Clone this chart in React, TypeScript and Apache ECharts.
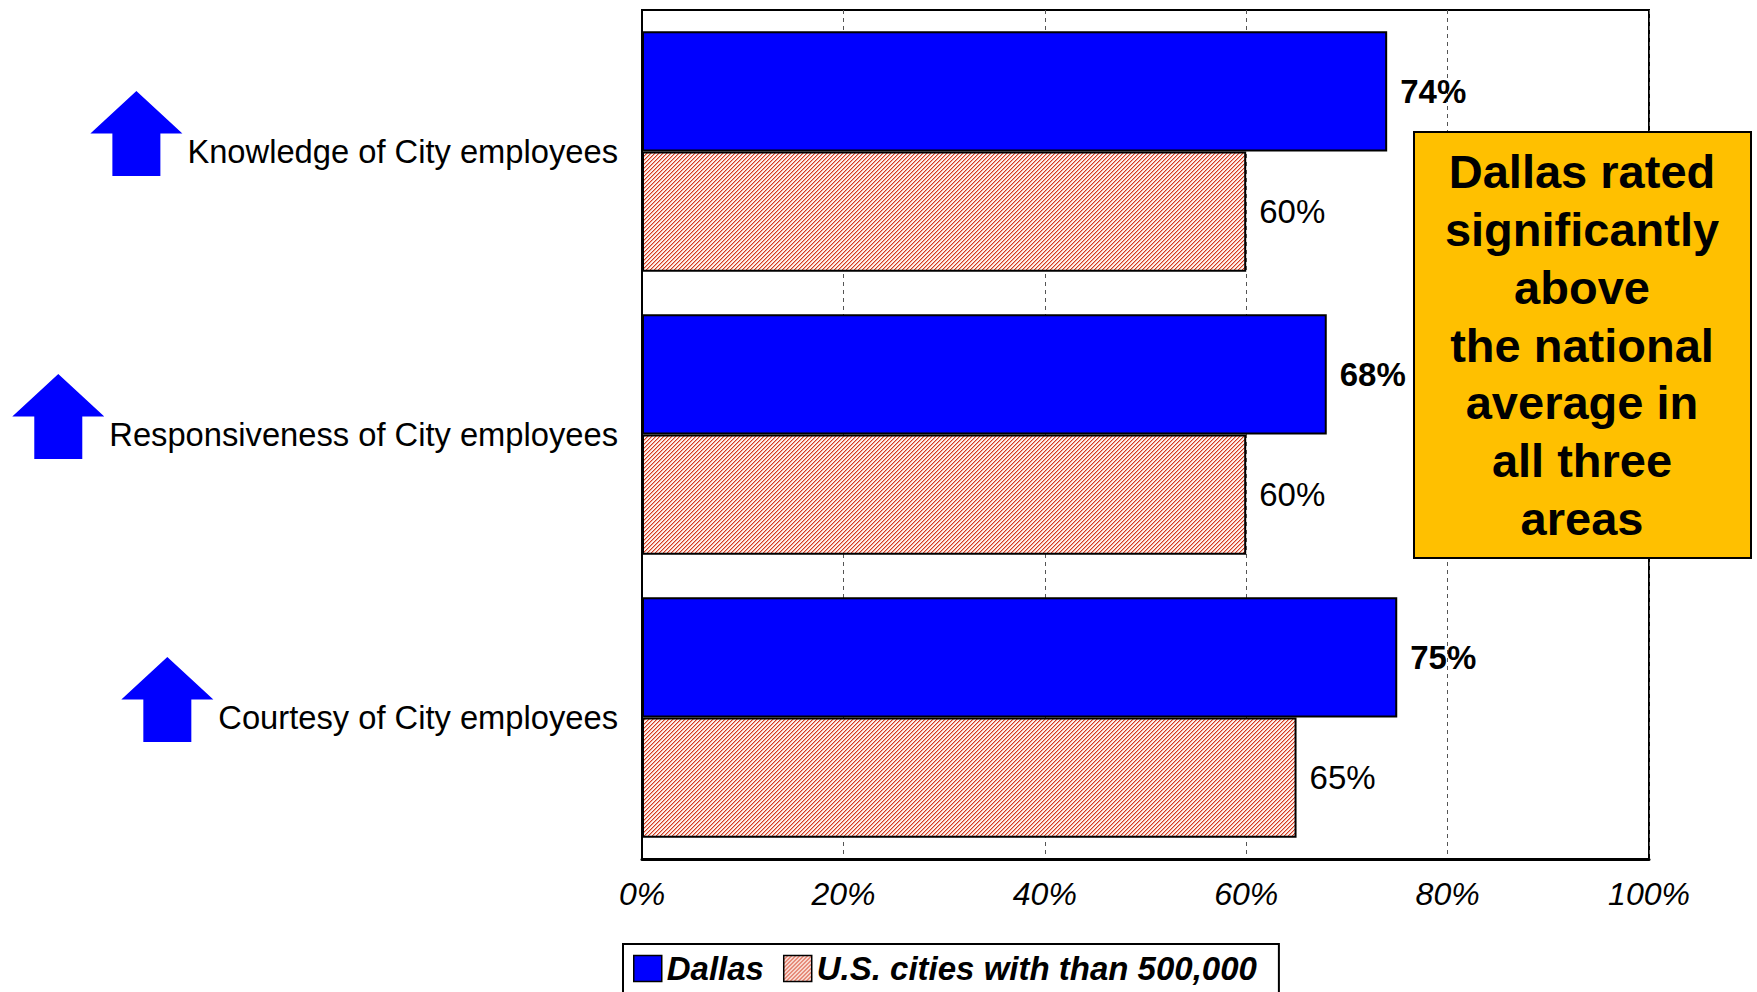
import React, { useEffect, useRef } from 'react';
import * as echarts from 'echarts';

const categories = ['Knowledge of City employees', 'Responsiveness of City employees', 'Courtesy of City employees'];
const dallasValues = [74, 68, 75];
const usCitiesValues = [60, 60, 65];
const seriesNames = ['Dallas', 'U.S. cities with than 500,000'];
const trendArrows = ['up', 'up', 'up'];
const calloutLines = ['Dallas rated', 'significantly', 'above', 'the national', 'average in', 'all three', 'areas'];

const FONT = '"Liberation Sans", Arial, Helvetica, sans-serif';
const CAT_FONT_SIZE = 32.7;

function makeHatch(): HTMLCanvasElement {
  const c = document.createElement('canvas');
  c.width = 4;
  c.height = 4;
  const g = c.getContext('2d')!;
  g.fillStyle = '#FDF0EC';
  g.fillRect(0, 0, 4, 4);
  for (let i = 0; i < 4; i++) {
    g.fillStyle = '#D23A20';
    g.fillRect(i, 3 - i, 1, 1);
    g.fillStyle = '#F0A898';
    g.fillRect((i + 1) % 4, 3 - i, 1, 1);
  }
  return c;
}

export default function App() {
  const ref = useRef<HTMLDivElement>(null);

  useEffect(() => {
    if (!ref.current) return;
    const chart = echarts.init(ref.current, undefined, { renderer: 'svg' });
    const hatch = makeHatch();
    const hatchFill: any = { image: hatch.toDataURL(), repeat: 'repeat', imageWidth: 4, imageHeight: 4 };

    const option: any = {
      animation: false,
      textStyle: { fontFamily: FONT },
      grid: { left: 642, right: 108, top: 10, bottom: 133, show: true, borderColor: '#000', borderWidth: 2, backgroundColor: '#fff' },
      xAxis: {
        type: 'value', min: 0, max: 100, interval: 20,
        axisLine: { show: true, lineStyle: { color: '#000', width: 3 } },
        axisTick: { show: false },
        splitLine: { show: true, lineStyle: { color: '#555', type: [4, 4], width: 1 } },
        axisLabel: { formatter: '{value}%', fontSize: 32, fontStyle: 'italic', color: '#000', margin: 19, fontFamily: FONT },
      },
      yAxis: {
        type: 'category', inverse: true, data: categories,
        axisLine: { show: true, lineStyle: { color: '#000', width: 2 } },
        axisTick: { show: false },
        axisLabel: { fontSize: CAT_FONT_SIZE, color: '#000', margin: 24, fontFamily: FONT },
      },
      legend: {
        left: 623, top: 944, orient: 'horizontal',
        itemWidth: 28, itemHeight: 26, itemGap: 19,
        padding: [8, 22, 10, 10],
        borderColor: '#000', borderWidth: 2, backgroundColor: '#fff',
        textStyle: { fontSize: 33, fontWeight: 'bold', fontStyle: 'italic', color: '#000', fontFamily: FONT },
        data: seriesNames.map((n) => ({ name: n, icon: 'rect', itemStyle: { borderColor: '#000', borderWidth: 1.5 } })),
      },
      series: [
        {
          name: seriesNames[0], type: 'bar', data: dallasValues,
          barGap: '0%', barCategoryGap: '15%',
          itemStyle: { color: '#0000FF', borderColor: '#000', borderWidth: 2 },
          label: { show: true, position: 'right', distance: 13, formatter: '{c}%', fontSize: 33, fontWeight: 'bold', color: '#000', fontFamily: FONT },
        },
        {
          name: seriesNames[1], type: 'bar', data: usCitiesValues,
          barGap: '0%', barCategoryGap: '15%',
          itemStyle: { color: hatchFill, borderColor: '#000', borderWidth: 2 },
          label: { show: true, position: 'right', distance: 13, formatter: '{c}%', fontSize: 33, fontWeight: 'normal', color: '#000', fontFamily: FONT },
        },
      ],
    };
    chart.setOption(option);

    const ctx = document.createElement('canvas').getContext('2d')!;
    ctx.font = `${CAT_FONT_SIZE}px ${FONT}`;
    const axisX = chart.convertToPixel({ xAxisIndex: 0 }, 0) as number;
    const arrows: any[] = [];
    categories.forEach((cat, i) => {
      if (trendArrows[i] !== 'up') return;
      const yc = chart.convertToPixel({ yAxisIndex: 0 }, cat) as number;
      const w = ctx.measureText(cat).width;
      const right = axisX - 24 - w - 5;
      const cx = right - 46;
      const tipY = yc - 18 - 42.5;
      arrows.push({
        type: 'polygon', z: 50,
        shape: {
          points: [
            [cx, tipY], [cx + 46, tipY + 42.5], [cx + 24, tipY + 42.5], [cx + 24, tipY + 85],
            [cx - 24, tipY + 85], [cx - 24, tipY + 42.5], [cx - 46, tipY + 42.5],
          ],
        },
        style: { fill: '#0000FF' },
      });
    });

    chart.setOption({
      graphic: [
        ...arrows,
        {
          type: 'rect', z: 100,
          shape: { x: 1414, y: 132, width: 337, height: 426 },
          style: { fill: '#FFC000', stroke: '#000', lineWidth: 2 },
        },
        {
          type: 'text', z: 101, x: 1582, y: 345,
          style: {
            text: calloutLines.join('\n'),
            fontSize: 47, fontWeight: 'bold', fontFamily: FONT,
            fill: '#000', align: 'center', verticalAlign: 'middle',
            textAlign: 'center', textVerticalAlign: 'middle', lineHeight: 57.7,
          },
        },
      ],
    });

    return () => chart.dispose();
  }, []);

  return <div ref={ref} style={{ position: 'absolute', left: 0, top: 0, width: 1757, height: 992 }} />;
}
